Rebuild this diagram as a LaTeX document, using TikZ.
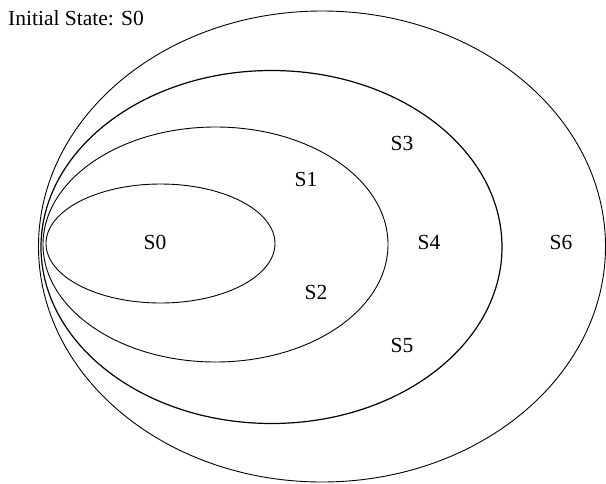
\documentclass[tikz,border=0pt]{standalone}
\usepackage{fontspec}
\setmainfont{Liberation Serif}
\begin{document}
\begin{tikzpicture}[x=1pt,y=-1pt,
  ring/.style={draw=black,line width=0.9pt},
  lbl/.style={font=\fontsize{21.5}{26}\selectfont,inner sep=0pt}]
\useasboundingbox (0,0) rectangle (606,483);
\draw[ring] (322,246.5) ellipse [x radius=283.5,y radius=235.5];
\draw[ring,line width=1.2pt] (271.5,247) ellipse [x radius=230.5,y radius=176.5];
\draw[ring] (215.5,244.5) ellipse [x radius=172.5,y radius=117.5];
\draw[ring] (160.5,243.5) ellipse [x radius=114.5,y radius=59.5];
\node[lbl,anchor=west] (title) at (8,18) {Initial State: S0};
\node[lbl] (s0) at (155,242) {S0};
\node[lbl] (s1) at (306,179) {S1};
\node[lbl] (s2) at (316,292) {S2};
\node[lbl] (s3) at (402,143) {S3};
\node[lbl] (s4) at (429,242) {S4};
\node[lbl] (s5) at (402,345) {S5};
\node[lbl] (s6) at (561,242) {S6};
\end{tikzpicture}
\end{document}
